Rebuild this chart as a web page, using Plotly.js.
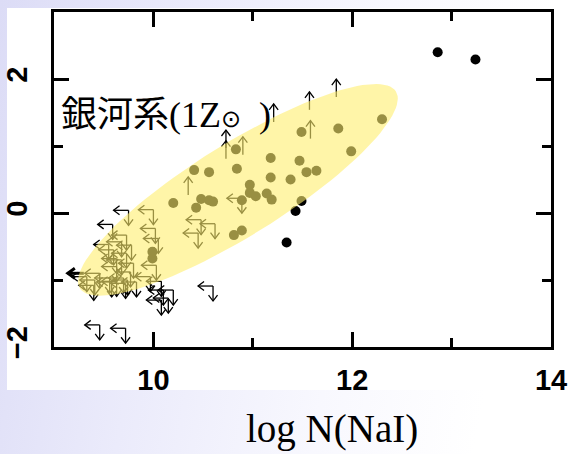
<!DOCTYPE html>
<html><head><meta charset="utf-8">
<script src="https://cdn.plot.ly/plotly-3.0.1.min.js"></script>
<style>
html,body{margin:0;padding:0;width:572px;height:454px;overflow:hidden;}
body{background:linear-gradient(100deg,#dcdcf6 0%,#ebebfb 30%,#f8f8fe 60%,#ffffff 85%);position:relative;}
#panel{position:absolute;left:7px;top:8px;width:565px;height:382px;background:#ffffff;}
#chart{position:absolute;left:0;top:0;width:572px;height:454px;}
</style></head><body>
<div id="panel"></div><div id="chart"></div>
<script>
// ---- data ----
// detections: log N(NaI) vs y
const detX = [12.86,13.24,11.49,11.43,11.34,12.30,11.86,11.49,11.99,10.83,11.18,11.47,10.84,10.41,10.56,11.18,11.38,11.54,11.64,10.97,10.97,11.03,11.14,11.19,10.20,10.48,10.56,10.60,10.43,10.89,10.81,10.89,9.99,9.99];
const detY = [2.40,2.29,0.18,0.03,-0.44,1.40,1.26,1.21,0.92,0.95,0.82,0.78,0.66,0.64,0.61,0.53,0.50,0.61,0.63,0.42,0.30,0.25,0.29,0.20,0.15,0.21,0.19,0.17,0.08,0.19,-0.33,-0.26,-0.58,-0.68];
// upper limits in both quantities (left + down arrows)
const ulX = [9.46,9.72,10.60,10.08,10.10,10.20,10.15,10.08,9.75,9.59,9.55,10.00,10.48,10.45,10.62,10.89,10.02,10.05,9.73,9.78,10.03,9.97,9.73,9.68,9.80,9.63,9.77,9.70,9.56,9.83,9.46,9.41,9.63,9.74,9.58,9.72,9.33,9.40,9.68,9.60,9.63];
const ulY = [-1.67,-1.72,-1.09,-1.02,-1.15,-1.15,-1.27,-1.30,0.04,-0.17,-0.47,0.05,-0.10,-0.30,-0.16,0.22,-0.23,-0.38,-0.33,-0.48,-0.78,-0.95,-0.60,-0.70,-0.75,-0.80,-0.88,-0.97,-0.97,-1.03,-0.90,-1.00,-1.02,-1.00,-1.03,-1.05,-0.95,-1.08,-0.43,-0.55,-0.68];
// lower limits in y (up arrows)
const llX = [11.21,11.57,11.84,11.58,10.90,10.73,10.73,10.35];
const llY = [1.36,1.54,1.73,1.11,0.87,0.97,0.81,0.27];
// upper limit in x only
const lxX = [9.30];
const lxY = [-0.90];
// Milky Way region (ellipse: centre and two half-axis vectors, data units)
const ellCenter = [10.85,0.345];
const ellAxisA = [1.59,1.47];
const ellAxisB = [0.246,-0.582];
const xTicks = [10,12,14], xMinor = [11,13];
const yTicks = [-2,0,2], yMinor = [-1,1];
const X_RANGE = [9,14], Y_RANGE = [-2,3];
const xTitle = 'log N(NaI)';
const labelText = '<span style="font-family:\'Noto Sans CJK JP\'">銀河系</span>(1Z<span style="font-size:24px">⊙</span>  )';

// ---- geometry helpers ----
const W=572, H=454, M={l:54,r:21,t:12,b:107};
const pxX=(W-M.l-M.r)/(X_RANGE[1]-X_RANGE[0]);
const pxY=(H-M.t-M.b)/(Y_RANGE[1]-Y_RANGE[0]);
function seg(xs,ys,pts){pts.forEach(p=>{xs.push(p[0]);ys.push(p[1]);});xs.push(null);ys.push(null);}
function arrow(xs,ys,x0,y0,dxPx,dyPx,head,halfW){
  const x1=x0+dxPx/pxX, y1=y0+dyPx/pxY;
  seg(xs,ys,[[x0,y0],[x1,y1]]);
  const L=Math.hypot(dxPx,dyPx), ux=dxPx/L, uy=dyPx/L;
  const bx=-ux*head, by=-uy*head, nx=-uy*halfW, ny=ux*halfW;
  seg(xs,ys,[[x1+(bx+nx)/pxX,y1+(by+ny)/pxY],[x1,y1],[x1+(bx-nx)/pxX,y1+(by-ny)/pxY]]);
}
const ulLX=[],ulLY=[];
ulX.forEach((x,i)=>{arrow(ulLX,ulLY,x,ulY[i],-15,0,6,4.5);arrow(ulLX,ulLY,x,ulY[i],0,-15,6,4.5);});
const llLX=[],llLY=[];
llX.forEach((x,i)=>{arrow(llLX,llLY,x,llY[i],0,18,6,4.5);});
const lxLX=[],lxLY=[];
lxX.forEach((x,i)=>{arrow(lxLX,lxLY,x,lxY[i],-16,0,7,5);});
const eX=[],eY=[];
for(let k=0;k<=120;k++){const t=2*Math.PI*k/120;
  eX.push(ellCenter[0]+Math.cos(t)*ellAxisA[0]+Math.sin(t)*ellAxisB[0]);
  eY.push(ellCenter[1]+Math.cos(t)*ellAxisA[1]+Math.sin(t)*ellAxisB[1]);}

const traces=[
 {type:'scatter',mode:'lines',x:ulLX,y:ulLY,line:{color:'#000',width:1.3},hoverinfo:'skip',showlegend:false},
 {type:'scatter',mode:'lines',x:llLX,y:llLY,line:{color:'#000',width:1.3},hoverinfo:'skip',showlegend:false},
 {type:'scatter',mode:'lines',x:lxLX,y:lxLY,line:{color:'#000',width:3},hoverinfo:'skip',showlegend:false},
 {type:'scatter',mode:'markers',x:detX,y:detY,marker:{color:'#000',size:10},showlegend:false},
 {type:'scatter',mode:'lines',x:eX,y:eY,fill:'toself',fillcolor:'rgba(255,238,110,0.6)',line:{width:0,color:'rgba(0,0,0,0)'},hoverinfo:'skip',showlegend:false}
];
const axBase={showline:true,linewidth:3,linecolor:'#000',mirror:'ticks',ticks:'inside',ticklen:15,tickwidth:3,tickcolor:'#000',
  showgrid:false,zeroline:false,tickmode:'array',tickfont:{family:'Liberation Sans, Arial, sans-serif',size:29,color:'#000',weight:'bold'}};
const layout={
 width:W,height:H,margin:M,paper_bgcolor:'rgba(0,0,0,0)',plot_bgcolor:'#fff',
 xaxis:Object.assign({},axBase,{range:X_RANGE,tickvals:xTicks,ticktext:xTicks.map(String),ticklabelstandoff:5,
   minor:{tickmode:'array',tickvals:xMinor,ticks:'inside',ticklen:9,tickwidth:3,tickcolor:'#000'}}),
 yaxis:Object.assign({},axBase,{range:Y_RANGE,tickvals:yTicks,ticktext:['\u22122','0','2'],tickangle:-90,ticklabelstandoff:12,
   minor:{tickmode:'array',tickvals:yMinor,ticks:'inside',ticklen:9,tickwidth:3,tickcolor:'#000'}}),
 annotations:[
  {xref:'x',yref:'y',x:9.05,y:1.52,xanchor:'left',yanchor:'middle',showarrow:false,text:labelText,
   font:{family:'Liberation Serif, Times New Roman, serif',size:36,color:'#000'}},
  {xref:'paper',yref:'paper',x:0.56,y:-0.245,xanchor:'center',yanchor:'middle',showarrow:false,text:xTitle,borderpad:0,
   font:{family:'Liberation Serif, Times New Roman, serif',size:39,color:'#000'}}
 ]
};
Plotly.newPlot('chart',traces,layout,{displayModeBar:false,staticPlot:true});
</script></body></html>
